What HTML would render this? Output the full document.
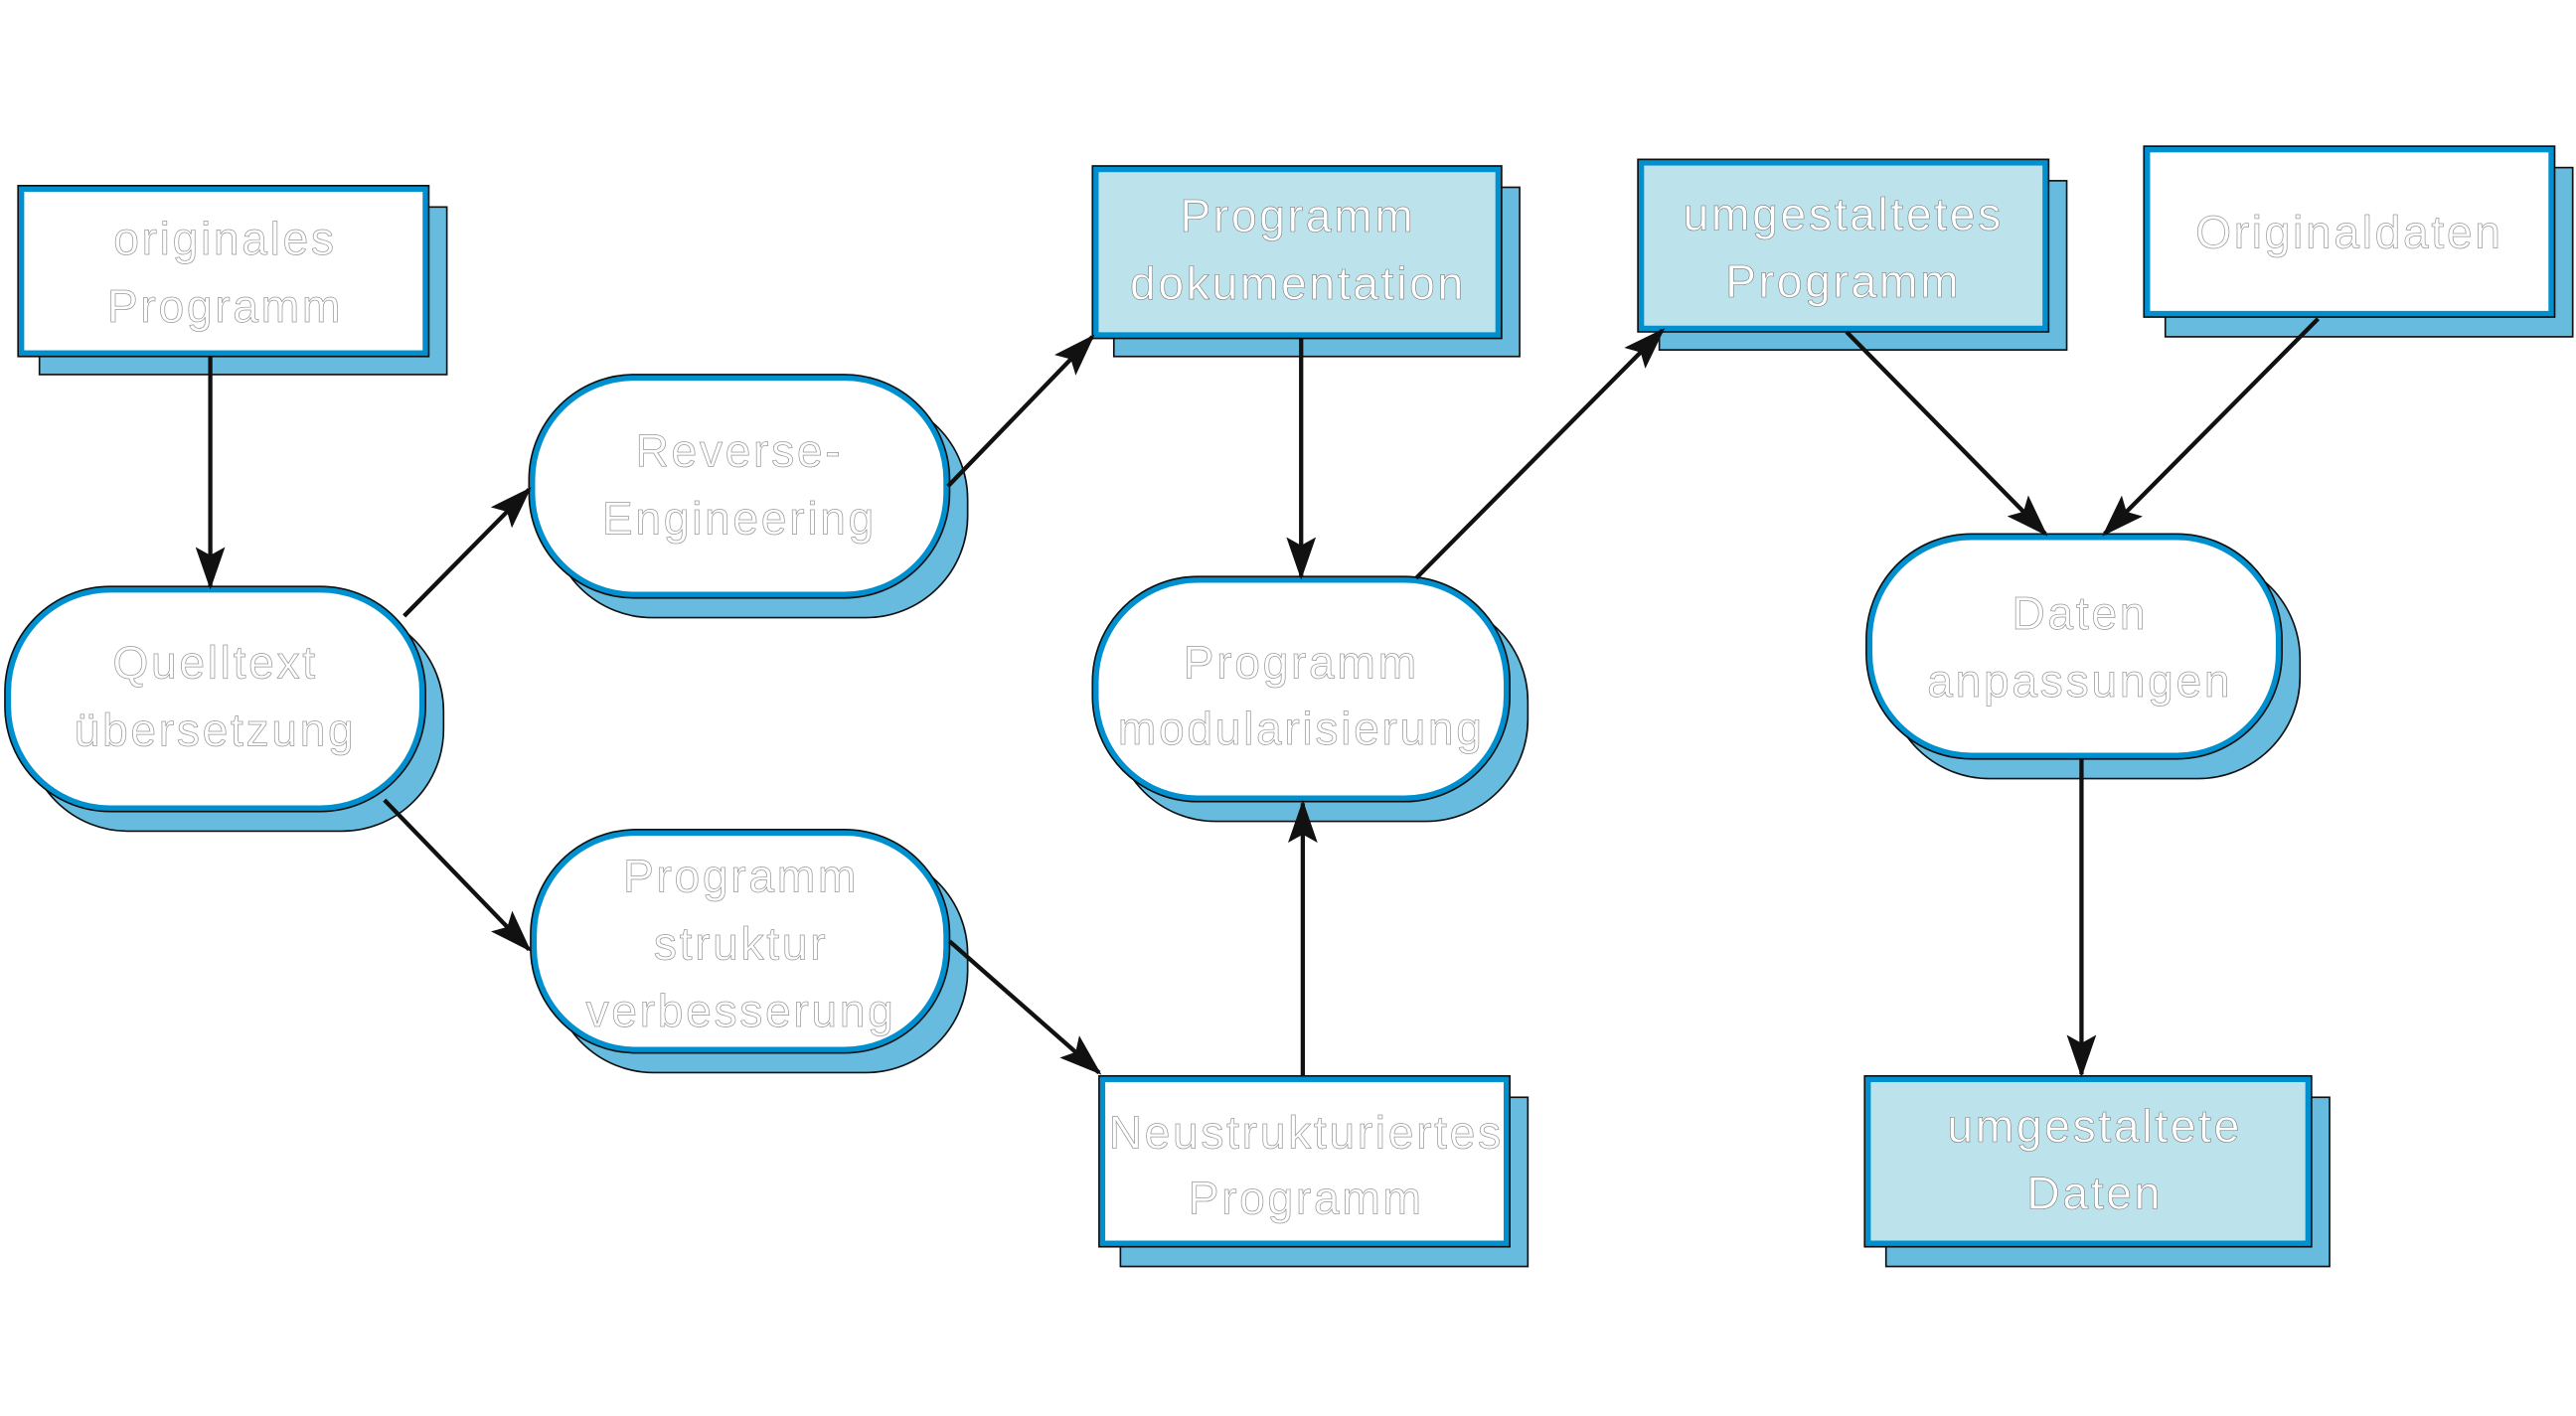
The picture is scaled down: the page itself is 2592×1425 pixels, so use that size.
<!DOCTYPE html>
<html><head><meta charset="utf-8"><style>
html,body{margin:0;padding:0;background:#fff;width:2592px;height:1425px;overflow:hidden}
svg{display:block}
text{font-family:"Liberation Sans",sans-serif;font-size:28px;text-anchor:middle;fill:#fff;stroke:#9a9a9a;stroke-width:0.45;letter-spacing:1.6px}
.lb text{stroke:#777;stroke-width:0.35}
.sh{fill:#66bbdf;stroke:#111;stroke-width:1}
.nd{fill:#fff;stroke:#0090cf;stroke-width:3.5}
.lbf{fill:#bce2ec;stroke:#0090cf;stroke-width:3.5}
.ol{fill:none;stroke:#111;stroke-width:1}
line{stroke:#111;stroke-width:2.6}
</style></head><body>
<svg width="2592" height="1425" viewBox="0 0 1568 862" xmlns="http://www.w3.org/2000/svg">
<defs>
<marker id="b" markerWidth="26" markerHeight="18" refX="24" refY="9" orient="auto" markerUnits="userSpaceOnUse"><path d="M0,0 L26,9 L0,18 L5,9z" fill="#111"/></marker></defs>

<g>
<rect class="sh" x="24" y="126" width="248" height="102"/>
<rect class="nd" x="13" y="115" width="246" height="100"/><rect class="ol" x="11" y="113" width="250" height="104"/>
<text x="137" y="155">originales</text><text x="137" y="196">Programm</text>
</g>
<g class="lb">
<rect class="sh" x="678" y="114" width="247" height="103"/>
<rect class="lbf" x="667" y="103" width="245" height="101"/><rect class="ol" x="665" y="101" width="249" height="105"/>
<text x="790" y="141">Programm</text><text x="790" y="182">dokumentation</text>
</g>
<g class="lb">
<rect class="sh" x="1010" y="110" width="248" height="103"/>
<rect class="lbf" x="999" y="99" width="246" height="101"/><rect class="ol" x="997" y="97" width="250" height="105"/>
<text x="1122" y="140">umgestaltetes</text><text x="1122" y="181">Programm</text>
</g>
<g>
<rect class="sh" x="1318" y="102" width="248" height="103"/>
<rect class="nd" x="1307" y="91" width="246" height="100"/><rect class="ol" x="1305" y="89" width="250" height="104"/>
<text x="1430" y="151">Originaldaten</text>
</g>
<g>
<rect class="sh" x="682" y="668" width="248" height="103"/>
<rect class="nd" x="671" y="657" width="246" height="100"/><rect class="ol" x="669" y="655" width="250" height="104"/>
<text x="795" y="699">Neustrukturiertes</text><text x="795" y="739">Programm</text>
</g>
<g class="lb">
<rect class="sh" x="1148" y="668" width="270" height="103"/>
<rect class="lbf" x="1137" y="657" width="268" height="100"/><rect class="ol" x="1135" y="655" width="272" height="104"/>
<text x="1275" y="695">umgestaltete</text><text x="1275" y="736">Daten</text>
</g>

<g>
<rect class="sh" x="16" y="371" width="254" height="135" rx="62"/>
<rect class="nd" x="5" y="359" width="252" height="133" rx="62"/><rect class="ol" x="3" y="357" width="256" height="137" rx="64"/>
<text x="131" y="413">Quelltext</text><text x="131" y="454">übersetzung</text>
</g>
<g>
<rect class="sh" x="335" y="242" width="254" height="134" rx="62"/>
<rect class="nd" x="324" y="230" width="252" height="132" rx="62"/><rect class="ol" x="322" y="228" width="256" height="136" rx="64"/>
<text x="450" y="284">Reverse-</text><text x="450" y="325">Engineering</text>
</g>
<g>
<rect class="sh" x="336" y="519" width="253" height="134" rx="62"/>
<rect class="nd" x="325" y="507" width="251" height="132" rx="62"/><rect class="ol" x="323" y="505" width="255" height="136" rx="64"/>
<text x="451" y="543">Programm</text><text x="451" y="584">struktur</text><text x="451" y="625">verbesserung</text>
</g>
<g>
<rect class="sh" x="678" y="365" width="252" height="135" rx="62"/>
<rect class="nd" x="667" y="353" width="250" height="133" rx="62"/><rect class="ol" x="665" y="351" width="254" height="137" rx="64"/>
<text x="792" y="413">Programm</text><text x="792" y="453">modularisierung</text>
</g>
<g>
<rect class="sh" x="1149" y="339" width="251" height="135" rx="62"/>
<rect class="nd" x="1138" y="327" width="249" height="133" rx="62"/><rect class="ol" x="1136" y="325" width="253" height="137" rx="64"/>
<text x="1266" y="383">Daten</text><text x="1266" y="424">anpassungen</text>
</g>

<line x1="128" y1="217" x2="128" y2="357" marker-end="url(#b)"/>
<line x1="246" y1="375" x2="322" y2="298" marker-end="url(#b)"/>
<line x1="577" y1="296" x2="665" y2="205" marker-end="url(#b)"/>
<line x1="792" y1="206" x2="792" y2="351" marker-end="url(#b)"/>
<line x1="862" y1="352" x2="1012" y2="201" marker-end="url(#b)"/>
<line x1="1124" y1="202" x2="1245" y2="325" marker-end="url(#b)"/>
<line x1="1411" y1="194" x2="1281" y2="325" marker-end="url(#b)"/>
<line x1="1267" y1="462" x2="1267" y2="654" marker-end="url(#b)"/>
<line x1="234" y1="487" x2="322" y2="578" marker-end="url(#b)"/>
<line x1="578" y1="573" x2="669" y2="653" marker-end="url(#b)"/>
<line x1="793" y1="655" x2="793" y2="489" marker-end="url(#b)"/>
</svg>
</body></html>
